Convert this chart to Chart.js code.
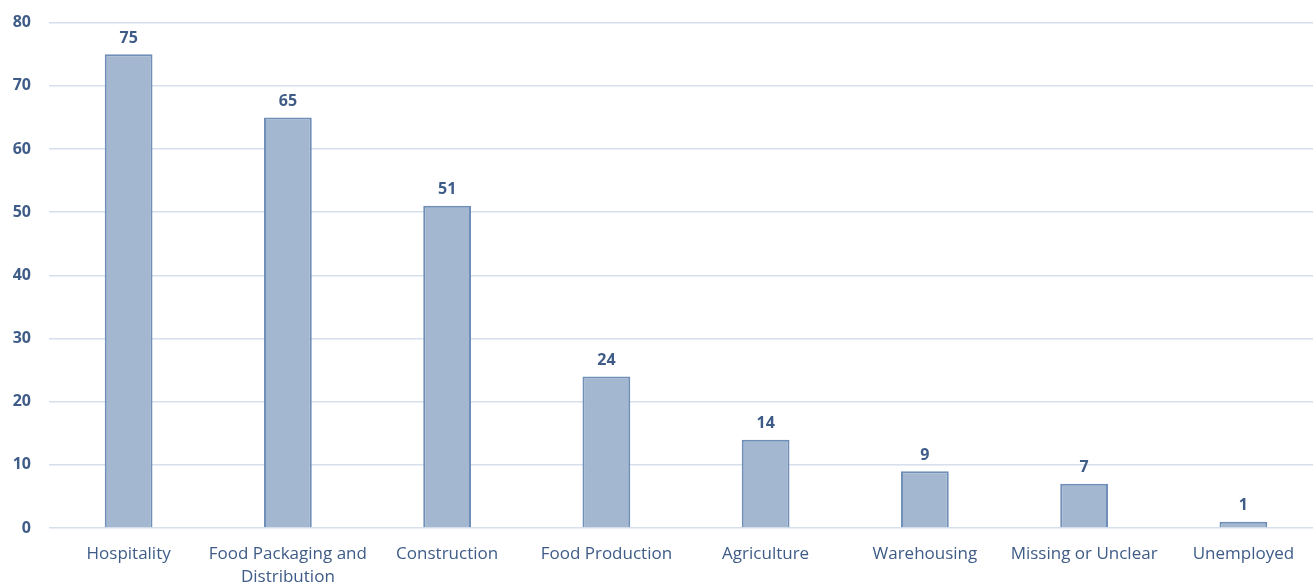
<!DOCTYPE html>
<html>
<head>
<meta charset="utf-8">
<script src="https://cdn.jsdelivr.net/npm/chart.js@4/dist/chart.umd.min.js"></script>
<style>
  html, body { margin: 0; padding: 0; overflow: hidden; background: #fff; }
  #wrap { width: 1313px; height: 583px; overflow: hidden; }
  #barChart { display: block; margin-top: -5px; }
</style>
</head>
<body>
<div id="wrap"><canvas id="barChart" width="1323" height="609"></canvas></div>
<script>
// chart data
const categories = ['Hospitality', ['Food Packaging and', 'Distribution'], 'Construction', 'Food Production',
  'Agriculture', 'Warehousing', 'Missing or Unclear', 'Unemployed'];
const counts = [75, 65, 51, 24, 14, 9, 7, 1];
const yTicks = [0, 10, 20, 30, 40, 50, 60, 70, 80];

const textColor = '#3e5c87';
const fontFamily = "'Open Sans', 'DejaVu Sans', sans-serif";

// draws the value above each bar
const valueLabels = {
  id: 'valueLabels',
  afterDatasetsDraw(chart) {
    const ctx = chart.ctx;
    const meta = chart.getDatasetMeta(0);
    ctx.save();
    ctx.fillStyle = textColor;
    ctx.font = 'bold 16px ' + fontFamily;
    ctx.textAlign = 'center';
    ctx.textBaseline = 'bottom';
    meta.data.forEach((bar, i) => {
      ctx.fillText(counts[i], bar.x, bar.y - 8);
    });
    ctx.restore();
  }
};

new Chart(document.getElementById('barChart').getContext('2d'), {
  type: 'bar',
  data: {
    labels: categories,
    datasets: [{
      data: counts,
      backgroundColor: '#a3b7d0',
      borderColor: '#6f8fb8',
      borderWidth: 2,
      barPercentage: 0.6,
      categoryPercentage: 0.5
    }]
  },
  options: {
    responsive: false,
    animation: false,
    layout: { padding: { top: 5, left: 0, right: 0, bottom: 8 } },
    plugins: {
      legend: { display: false },
      tooltip: { enabled: false }
    },
    scales: {
      x: {
        grid: { display: false },
        border: { display: false },
        ticks: {
          color: textColor,
          font: { family: fontFamily, size: 17, lineHeight: 1.35 },
          maxRotation: 0,
          autoSkip: false,
          padding: 7
        }
      },
      y: {
        min: 0,
        max: 80,
        afterBuildTicks: (axis) => { axis.ticks = yTicks.map(v => ({ value: v })); },
        afterFit: (axis) => { axis.width = 49; },
        grid: { color: '#d6dfeb', lineWidth: 1.5, drawTicks: false },
        border: { display: false },
        ticks: {
          color: textColor,
          font: { family: fontFamily, size: 16, weight: 'bold' },
          padding: 18
        }
      }
    }
  },
  plugins: [valueLabels]
});
</script>
</body>
</html>
